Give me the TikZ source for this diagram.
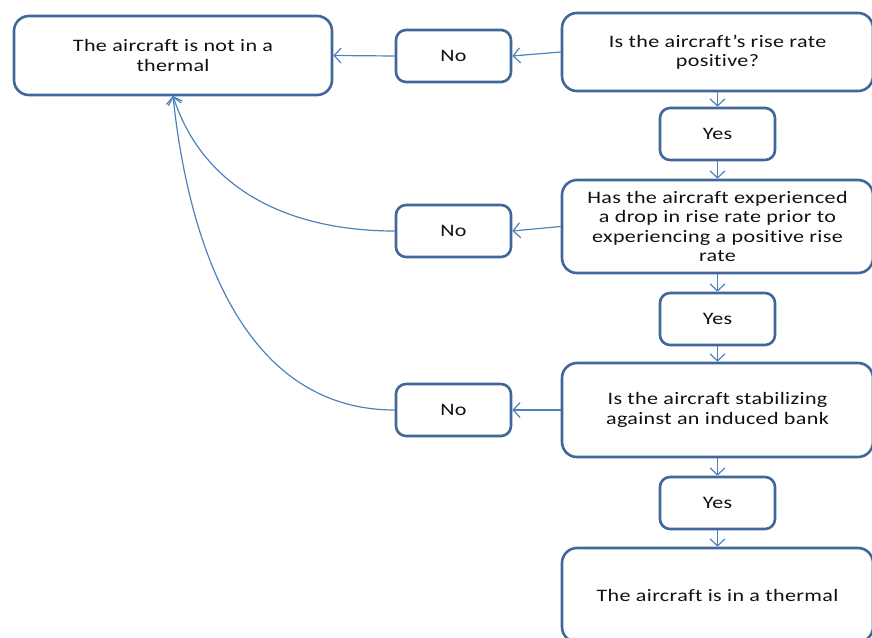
\documentclass[tikz,border=0pt]{standalone}
\usepackage{fontspec}
\setmainfont{Carlito}[FakeStretch=1.26, Ligatures={NoCommon}, LetterSpace=2]
\usetikzlibrary{arrows.meta}
\definecolor{boxblue}{HTML}{41679A}
\definecolor{lineblue}{HTML}{4F81BD}
\definecolor{txt}{HTML}{111111}
\begin{document}
\begin{tikzpicture}[x=1pt,y=-1pt,
  bigbox/.style={draw=boxblue, line width=2.6pt, rounded corners=15pt, fill=white,
    minimum width=311pt, align=center, text=txt, inner sep=0pt},
  smallbox/.style={draw=boxblue, line width=2.6pt, rounded corners=10pt, fill=white,
    minimum width=115pt, minimum height=52pt, text=txt, inner sep=0pt},
  conn/.style={draw=lineblue, line width=1.2pt, -{Straight Barb[length=7pt,width=15pt,line width=1.2pt]}},
  font=\fontsize{17.5pt}{19.5pt}\selectfont]
\useasboundingbox (0,0) rectangle (872,637);
\node[bigbox, minimum width=318pt, minimum height=79pt] (A) at (173,55.5) {The aircraft is not in a\\thermal};
\node[smallbox] (N1) at (453.5,56) {No};
\node[bigbox, minimum height=78pt] (Q1) at (717.5,52) {Is the aircraft’s rise rate\\positive?};
\node[smallbox] (Y1) at (717.5,134) {Yes};
\node[bigbox, minimum height=93pt] (Q2) at (717.5,226.5) {Has the aircraft experienced\\a drop in rise rate prior to\\experiencing a positive rise\\rate};
\node[smallbox] (N2) at (453.5,231) {No};
\node[smallbox] (Y2) at (717.5,319) {Yes};
\node[bigbox, minimum height=94pt] (Q3) at (717.5,410) {Is the aircraft stabilizing\\against an induced bank};
\node[smallbox] (N3) at (453.5,410) {No};
\node[smallbox] (Y3) at (717.5,503) {Yes};
\node[bigbox, minimum height=94pt] (F) at (717.5,595) {The aircraft is in a thermal};
\coordinate (Abot) at (173,96);
\draw[conn] (Q1.west) -- (N1.east);
\draw[conn] (N1.west) -- (A.east);
\draw[conn] (Q1.south) -- (Y1.north);
\draw[conn] (Y1.south) -- (Q2.north);
\draw[conn] (Q2.west) -- (N2.east);
\draw[conn] (Y2.north |- Q2.south) -- (Y2.north);
\draw[conn] (Y2.south) -- (Q3.north);
\draw[conn] (Q3.west) -- (N3.east);
\draw[conn] (Q3.south) -- (Y3.north);
\draw[conn] (Y3.south) -- (F.north);
\draw[conn] (N2.west) to[out=180,in=-72] (Abot);
\draw[conn] (N3.west) to[out=180,in=-84] (Abot);
\end{tikzpicture}
\end{document}
